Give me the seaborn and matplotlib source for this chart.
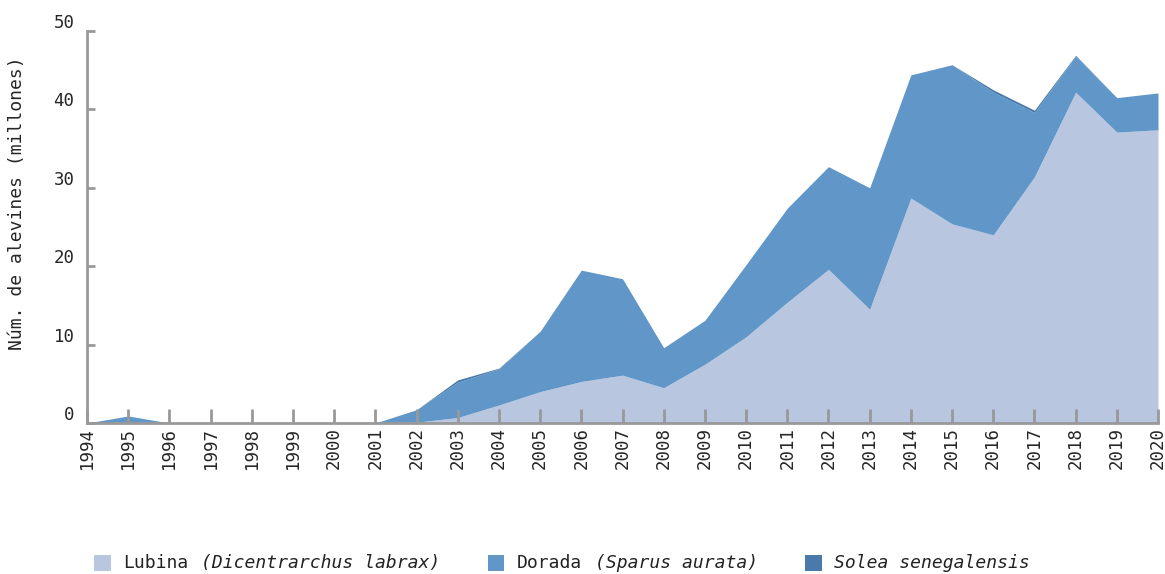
import numpy as np
import pandas as pd
import matplotlib
matplotlib.use("Agg")
import matplotlib.pyplot as plt
import matplotlib.transforms as mtransforms
from matplotlib.patches import Rectangle
from matplotlib.offsetbox import (AnchoredOffsetbox, DrawingArea, HPacker,
                                  TextArea)
import seaborn as sns

# datos (millones de alevines)
anios = list(range(1994, 2021))
lubina = [0, 0, 0, 0, 0, 0, 0, 0, 0.1, 0.7, 2.3, 4.0, 5.3, 6.1, 4.5, 7.5,
          11.0, 15.4, 19.6, 14.5, 28.7, 25.4, 24.0, 31.4, 42.2, 37.1, 37.4]
dorada = [0, 0.9, 0, 0, 0, 0, 0, 0, 1.6, 4.5, 4.6, 7.7, 14.2, 12.3, 5.1, 5.6,
          9.2, 12.0, 13.1, 15.5, 15.7, 20.3, 18.2, 8.2, 4.6, 4.4, 4.7]
solea = [0, 0, 0, 0, 0, 0, 0, 0, 0, 0.3, 0.1, 0, 0, 0, 0, 0,
         0, 0, 0, 0, 0, 0, 0.3, 0.3, 0.1, 0, 0]
yticks = [0, 10, 20, 30, 40, 50]

# (nombre comun, nombre cientifico)
etiquetas = [("Lubina", "(Dicentrarchus labrax)"),
             ("Dorada", "(Sparus aurata)"),
             ("", "Solea senegalensis")]
colores = ["#b8c6e0", "#6096c8", "#4a7aaa"]

df = pd.DataFrame({"anio": anios, "lubina": lubina, "dorada": dorada, "solea": solea})

sns.set_theme(style="white")
plt.rcParams["font.family"] = ["DejaVu Sans Mono", "DejaVu Sans"]

fig = plt.figure(figsize=(11.65, 5.74), dpi=100)
ax = fig.add_axes([87 / 1165, 1 - 423 / 574, (1158 - 87) / 1165, (423 - 31) / 574])
ax.set_axisbelow(False)

# areas apiladas
base = np.zeros(len(df))
for col, c in zip(["lubina", "dorada", "solea"], colores):
    top = base + df[col].values
    ax.fill_between(df["anio"], base, top, color=c, linewidth=0)
    base = top

ax.set_xlim(1994, 2020)
ax.set_ylim(0, 50)
ax.set_xticks(anios)
ax.set_xticklabels([str(a) for a in anios], rotation=90, fontsize=12.5)
ax.set_yticks(yticks)
ax.set_yticklabels([str(t) for t in yticks], fontsize=12.5)

for s in ["top", "right"]:
    ax.spines[s].set_visible(False)
for s in ["left", "bottom"]:
    ax.spines[s].set_color("#999999")
    ax.spines[s].set_linewidth(2)
    ax.spines[s].set_zorder(5)

ax.tick_params(axis="x", bottom=True, direction="in", length=10, width=2,
               color="#999999", pad=3)
ax.tick_params(axis="y", left=True, direction="in", length=6, width=2,
               color="#999999", pad=9)

# etiquetas y un poco por encima de la marca
desplaza = mtransforms.ScaledTranslation(0, 10 / 100, fig.dpi_scale_trans)
for lab in ax.get_yticklabels():
    lab.set_transform(lab.get_transform() + desplaza)

ax.set_ylabel("Núm. de alevines (millones)", fontsize=13)
ax.yaxis.set_label_coords(-0.057, 0.561)

# leyenda con parte en cursiva
partes = []
for (comun, cient), c in zip(etiquetas, colores):
    da = DrawingArea(12, 12, 0, 0)
    da.add_artist(Rectangle((0, 0), 12, 12, facecolor=c, edgecolor="none"))
    fila = [da]
    if comun:
        fila.append(TextArea(comun, textprops=dict(fontsize=13, color="#222222")))
    fila.append(TextArea(cient, textprops=dict(fontsize=13, style="italic", color="#222222")))
    partes.append(HPacker(children=fila, align="center", pad=0, sep=9))
leyenda = HPacker(children=partes, align="center", pad=0, sep=34)
caja = AnchoredOffsetbox(loc="center", child=leyenda, frameon=False,
                         bbox_to_anchor=(562 / 1165, 1 - 563 / 574),
                         bbox_transform=fig.transFigure, borderpad=0, pad=0)
fig.add_artist(caja)

fig.savefig("out.png", dpi=100)
